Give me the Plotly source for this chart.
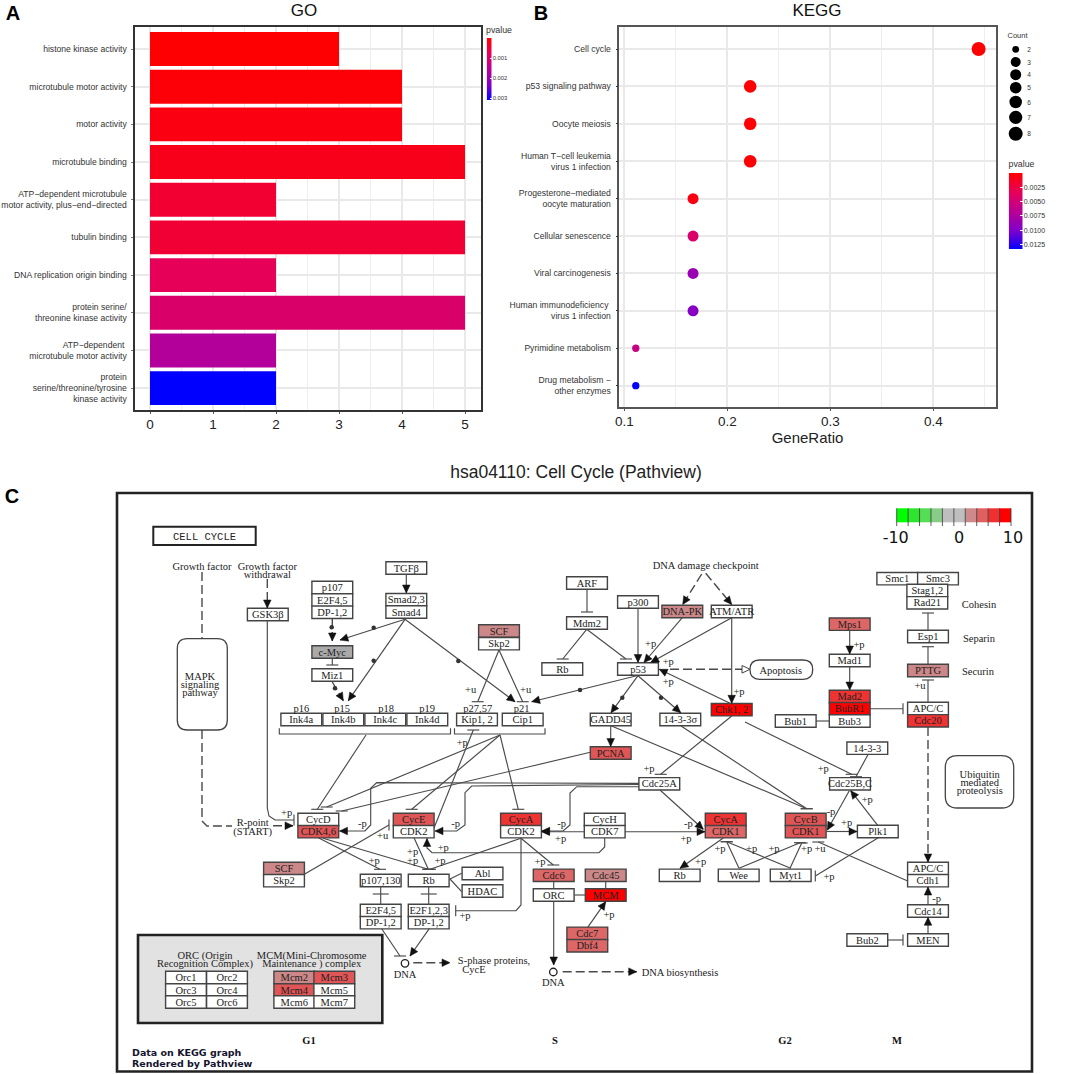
import plotly.graph_objects as go

W, H = 1072, 1074
SANS = "Liberation Sans"
SERIF = "Liberation Serif"

# ---------- Panel A data ----------
GO_TERMS = ["histone kinase activity", "microtubule motor activity", "motor activity",
            "microtubule binding", "ATP−dependent microtubule<br>motor activity, plus−end−directed",
            "tubulin binding", "DNA replication origin binding",
            "protein serine/<br>threonine kinase activity",
            "ATP−dependent <br>microtubule motor activity",
            "protein<br>serine/threonine/tyrosine<br>kinase activity"]
GO_COUNTS = [3, 4, 4, 5, 2, 5, 2, 5, 2, 2]
GO_PVALUES = [0.00002, 0.00006, 0.00015, 0.00022, 0.00042, 0.00045, 0.00075, 0.00098, 0.00165, 0.0031]
GO_CBAR_TICKS = [0.001, 0.002, 0.003]

# ---------- Panel B data ----------
KEGG_TERMS = ["Cell cycle", "p53 signaling pathway", "Oocyte meiosis",
              "Human T−cell leukemia<br>virus 1 infection",
              "Progesterone−mediated<br>oocyte maturation", "Cellular senescence",
              "Viral carcinogenesis", "Human immunodeficiency <br>virus 1 infection",
              "Pyrimidine metabolism", "Drug metabolism −<br>other enzymes"]
KEGG_RATIO = [0.444, 0.2222, 0.2222, 0.2222, 0.1667, 0.1667, 0.1667, 0.1667, 0.1111, 0.1111]
KEGG_COUNT = [8, 4, 4, 4, 3, 3, 3, 3, 2, 2]
KEGG_PVALUES = [0.00002, 0.00015, 0.00018, 0.0002, 0.0007, 0.0043, 0.0085, 0.0095, 0.0056, 0.0133]
KEGG_CBAR_TICKS = [0.0025, 0.005, 0.0075, 0.01, 0.0125]
COUNT_LEVELS = [2, 3, 4, 5, 6, 7, 8]

# style lookups
PLOT_DOT = {2: 7.3, 3: 11, 4: 12.6, 8: 14}
LEG_DOT = {2: 6.8, 3: 10, 4: 11, 5: 11.6, 6: 12.5, 7: 13.2, 8: 14}
LEG_Y = {2: 49.3, 3: 62, 4: 74.7, 5: 87.7, 6: 102, 7: 117.3, 8: 133.7}
RAMP = [[0, "#FF0000"], [0.25, "#E6005A"], [0.5, "#BA0094"], [0.75, "#8000CC"], [1, "#0000FF"]]
A_STOPS = [0, 0.0004, 0.0008, 0.0012, 0.0016, 0.002, 0.0024, 0.0028, 0.0031]
B_STOPS = [0, 0.002, 0.004, 0.006, 0.008, 0.01, 0.012, 0.0133]

# ---------- Panel C: KEGG diagram in its own page-sized coordinate system ----------
R1, R2, R3, R4, PK, GY, WT = "#ff0000", "#ee3333", "#e05555", "#dd6666", "#cc8888", "#aaaaaa", "#ffffff"
NODES = [
    ("GSK3β", 267.8, 614.5, WT), ("p107", 332.3, 587.5, WT), ("E2F4,5", 332.3, 600, WT), ("DP-1,2", 332.3, 612.3, WT),
    ("c-Myc", 332.3, 652, GY), ("Miz1", 332.3, 675, WT), ("TGFβ", 406.3, 568, WT), ("Smad2,3", 406.3, 599.7, WT),
    ("Smad4", 406.3, 612, WT), ("Ink4a", 301.3, 719.5, WT), ("Ink4b", 343.3, 719.5, WT), ("Ink4c", 385.3, 719.5, WT),
    ("Ink4d", 427.3, 719.5, WT), ("Kip1, 2", 477, 719.5, WT), ("Cip1", 522.7, 719.5, WT), ("SCF", 499, 631, PK),
    ("Skp2", 499, 643.7, WT), ("ARF", 587, 583, WT), ("Mdm2", 587, 623, WT), ("Rb", 562.3, 669, WT),
    ("p300", 638, 602, WT), ("p53", 638, 669, WT), ("DNA-PK", 682.3, 611.5, PK), ("ATM/ATR", 731.7, 611.5, WT),
    ("Chk1, 2", 731.7, 709.7, R1), ("GADD45", 610.7, 719.5, WT), ("14-3-3σ", 680.3, 719.5, WT), ("PCNA", 610.7, 753, R3),
    ("Smc1", 897.3, 578.7, WT), ("Smc3", 938, 578.7, WT), ("Stag1,2", 927.3, 590.5, WT), ("Rad21", 927.3, 602.8, WT),
    ("Esp1", 928, 636.5, WT), ("PTTG", 928, 670.5, PK), ("APC/C", 928, 708.4, WT), ("Cdc20", 928, 720.8, R2),
    ("Mps1", 849.7, 624.2, R4), ("Mad1", 849.7, 660.5, WT), ("Mad2", 849.7, 696.5, R2), ("BubR1", 849.7, 708.7, R1),
    ("Bub3", 849.7, 721, WT), ("Bub1", 795.7, 721, WT), ("14-3-3", 867.3, 748.2, WT), ("Cdc25B,C", 850, 783.8, WT),
    ("Cdc25A", 659.3, 783.8, WT), ("CycD", 318.3, 819.5, WT), ("CDK4,6", 318.3, 831.7, R3), ("CycE", 413.7, 819.5, R3),
    ("CDK2", 413.7, 831.7, WT), ("SCF", 284, 868.5, PK), ("Skp2", 284, 880.7, WT), ("p107,130", 380.7, 880.5, WT),
    ("Rb", 428.7, 880.5, WT), ("E2F4,5", 380.7, 910.5, WT), ("DP-1,2", 380.7, 922.7, WT), ("E2F1,2,3", 428.7, 910.5, WT),
    ("DP-1,2", 428.7, 922.7, WT), ("CycA", 521, 819.5, R2), ("CDK2", 521, 831.7, WT), ("CycH", 604.7, 819.5, WT),
    ("CDK7", 604.7, 831.7, WT), ("CycA", 725.7, 819.5, R2), ("CDK1", 725.7, 831.7, R4), ("CycB", 805.7, 819.5, R3),
    ("CDK1", 805.7, 831.7, R3), ("Plk1", 877.8, 831.5, WT), ("Cdc6", 553.7, 875.3, R4), ("ORC", 553.7, 895, WT),
    ("Cdc45", 605.7, 875.3, PK), ("MCM", 605.7, 895, R1), ("Abl", 482.5, 873.5, WT), ("HDAC", 482.5, 891, WT),
    ("Rb", 679.7, 875.3, WT), ("Wee", 738.7, 875.3, WT), ("Myt1", 790.7, 875.3, WT), ("Cdc7", 587.3, 933.3, R4),
    ("Dbf4", 587.3, 945.8, R4), ("APC/C", 928, 868.5, WT), ("Cdh1", 928, 880.7, WT), ("Cdc14", 928, 911, WT),
    ("MEN", 928, 940, WT), ("Bub2", 867.3, 940, WT),
    # complex tables inside the grey box
    ("Orc1", 186, 977.5, WT), ("Orc2", 227, 977.5, WT), ("Orc3", 186, 990, WT), ("Orc4", 227, 990, WT),
    ("Orc5", 186, 1002, WT), ("Orc6", 227, 1002, WT), ("Mcm2", 294.3, 977.5, PK), ("Mcm3", 334.3, 977.5, R3),
    ("Mcm4", 294.3, 990, R3), ("Mcm5", 334.3, 990, WT), ("Mcm6", 294.3, 1002, WT), ("Mcm7", 334.3, 1002, WT),
]
SOFT_LABELS = [
    ("Growth factor", 202, 566), ("Growth factor", 267.3, 566), ("withdrawal", 267.3, 574),
    ("MAPK", 200, 676), ("signaling", 200, 684), ("pathway", 200, 692),
    ("p16", 301.3, 708.7), ("p15", 342, 708.7), ("p18", 386, 708.7), ("p19", 427, 708.7),
    ("p27,57", 477.7, 708.7), ("p21", 521.7, 708.7), ("DNA damage checkpoint", 705.7, 565.7),
    ("Apoptosis", 780.7, 670), ("Ubiquitin", 979.7, 774.3), ("mediated", 979.7, 782.7), ("proteolysis", 979.7, 790.7),
    ("R-point", 252.7, 822.7), ("(START)", 252.7, 831), ("DNA", 405, 974), ("DNA", 553.3, 982.3),
    ("ORC (Origin", 205, 955.7), ("Recognition Complex)", 205, 963.3), ("MCM(Mini-Chromosome", 311.7, 955.7),
    ("Maintenance ) complex", 311.7, 963.3), ("Cohesin", 979, 604.3), ("Separin", 979, 638), ("Securin", 978, 671.7),
    ("S-phase proteins,", 494, 960.3), ("CycE", 474, 969.3), ("DNA biosynthesis", 680, 972.7),
]
MODS = [
    ("+p", 286.7, 812.7), ("-p", 362.3, 823.3), ("+u", 382.7, 835), ("+p", 443.3, 847.3), ("+p", 412.7, 851.7),
    ("+p", 412.7, 860.7), ("+p", 440, 860.7), ("+p", 374.3, 860.7), ("+p", 650.7, 643.3), ("+p", 668.3, 661),
    ("+p", 668.3, 681.7), ("+p", 739, 691), ("+p", 462.3, 742.3), ("+p", 649, 768.3), ("+p", 859, 644.3),
    ("+u", 920, 685.7), ("+p", 823.3, 768.3), ("-p", 455.7, 823.3), ("-p", 561.7, 823.3), ("+p", 560.7, 838.3),
    ("+p", 540, 861.7), ("+p", 465, 915), ("+p", 609, 914), ("-p", 688.3, 823.3), ("+p", 686, 838.3), ("+p", 720, 848.3),
    ("+p", 700.7, 861.7), ("+p", 751.7, 848.3), ("-p", 831, 811.7), ("+p", 846.7, 822.7), ("+p", 867.3, 799.3),
    ("+p", 774, 848.3), ("+p", 806.7, 848.3), ("+u", 820, 848.3), ("+p", 829, 876.7), ("-p", 936.7, 898.3),
    ("+u", 470.7, 689), ("+u", 525.7, 689),
]
# (points, end marker, dashed)
EDGES = [
    ([(202, 572), (202, 638.7)], "", True),
    ([(202, 730), (202, 821), (207, 826), (232, 826)], "", True),
    ([(273, 825.7), (293, 825.7)], "A", True),
    ([(267.3, 579), (267.3, 608)], "A", True),
    ([(267.3, 621), (267.3, 808), (269, 816), (275, 820), (294, 820)], "V", False),
    ([(332.3, 619), (332.3, 641)], "A", True),
    ([(405, 619.3), (340, 640)], "A", False),
    ([(332.3, 658), (332.3, 665)], "T", False),
    ([(332.3, 682), (343.3, 700.7)], "A", True),
    ([(405, 619.3), (348.3, 700.7)], "A", False),
    ([(405, 619.3), (515, 701.7)], "A", False),
    ([(499, 650), (477.7, 701.7)], "T", False),
    ([(499, 650), (522.7, 701.7)], "T", False),
    ([(406.3, 574.3), (406.3, 593)], "A", False),
    ([(587, 589.5), (587, 612)], "T", False),
    ([(586.7, 629.3), (562.7, 659)], "T", False),
    ([(586.7, 629.3), (626, 659)], "T", False),
    ([(638, 608.3), (638, 662.5)], "A", False),
    ([(682.3, 617.7), (644, 662.5)], "A", False),
    ([(731.7, 617.7), (650.7, 662.5)], "A", False),
    ([(731.7, 617.7), (731.7, 703.3)], "A", False),
    ([(701.7, 574), (682.7, 604.5)], "A", True),
    ([(705.7, 573.3), (731.7, 604.5)], "A", True),
    ([(730, 703.3), (659.3, 669.3)], "A", False),
    ([(636.7, 675.7), (531.7, 701.7)], "A", False),
    ([(638, 675.7), (611, 712.7)], "A", False),
    ([(638, 675.7), (680.7, 712.7)], "A", False),
    ([(610.7, 726), (610.7, 746.5)], "A", False),
    ([(611, 725.7), (806.7, 808.7)], "T", False),
    ([(680.7, 725.7), (806.7, 808.7)], "T", False),
    ([(731.7, 716), (660.7, 774.3)], "T", False),
    ([(745, 722), (851.7, 774.3)], "T", False),
    ([(868.3, 754), (856, 776.7)], "T", False),
    ([(849.7, 630.7), (849.7, 654)], "A", False),
    ([(849.7, 667), (849.7, 690)], "A", False),
    ([(870, 708.7), (903, 708.7)], "V", False),
    ([(816, 721), (829, 721)], "", False),
    ([(928, 630), (928, 613)], "T", False),
    ([(928, 664), (928, 646.7)], "T", False),
    ([(928, 702), (928, 680)], "T", False),
    ([(928, 727), (928, 862)], "A", True),
    ([(928, 904.7), (928, 887)], "A", False),
    ([(928, 933.7), (928, 917.3)], "A", False),
    ([(888, 940), (903, 940)], "V", False),
    ([(907.7, 881), (818.3, 842)], "T", False),
    ([(877.7, 825.3), (850.7, 790.7)], "A", False),
    ([(878.3, 837.7), (815.3, 876)], "V", False),
    ([(826.5, 831.5), (857, 831.5)], "A", False),
    ([(849.3, 790.7), (827.3, 830)], "A", False),
    ([(790, 868.3), (801.7, 843)], "T", False),
    ([(739, 868.3), (800, 842.7)], "T", False),
    ([(739, 868.3), (726.7, 841.7)], "T", False),
    ([(790.7, 868.3), (726.7, 841.7)], "T", False),
    ([(723.3, 838), (680, 868.3)], "A", False),
    ([(625, 831.7), (705, 831.7)], "A", False),
    ([(584, 831.7), (541.5, 831.7)], "A", False),
    ([(604.7, 838), (604.7, 847), (599, 852.7), (432, 852.7), (427, 848), (427, 838.5)], "A", False),
    ([(639, 786.7), (576.7, 786.7), (570, 793), (570, 825), (563, 831), (541.7, 831)], "A", False),
    ([(639, 784.5), (471.7, 786), (465, 792.7), (465, 825), (456.7, 831), (435, 831)], "A", False),
    ([(639, 783.3), (376.7, 782.7), (370.7, 788.3), (370.7, 825), (365, 831), (339.5, 831)], "A", False),
    ([(660, 790), (703.3, 829.3)], "A", False),
    ([(366, 735), (317.3, 809.3)], "T", False),
    ([(500, 735), (326.7, 807)], "T", False),
    ([(590.3, 752.3), (341.7, 811)], "T", False),
    ([(500, 735), (411.7, 809.3)], "T", False),
    ([(500, 735), (518.3, 809.3)], "T", False),
    ([(434, 828), (473.3, 730)], "T", False),
    ([(304.3, 874.3), (389, 825)], "V", False),
    ([(318.3, 837.7), (380, 869.3)], "T", False),
    ([(323, 838.3), (428.3, 869.3)], "T", False),
    ([(414, 837.7), (428.3, 869.3)], "T", False),
    ([(521, 838.3), (430, 869.3)], "T", False),
    ([(380.7, 887), (380.7, 904)], "", False),
    ([(428.7, 887), (428.7, 904)], "", False),
    ([(372.7, 894), (388.7, 894)], "", False),
    ([(420.7, 894), (436.7, 894)], "", False),
    ([(381.7, 928.7), (400, 956)], "T", False),
    ([(429.3, 928.7), (410, 956)], "A", False),
    ([(413.3, 962.7), (450, 962.7)], "A", True),
    ([(521, 838.3), (521, 905), (516, 910.7), (455.7, 910.7)], "V", False),
    ([(521, 838.3), (553.3, 865)], "T", False),
    ([(553.7, 881.7), (553.7, 888.7)], "", False),
    ([(553.7, 901.5), (553.7, 965)], "A", False),
    ([(605.7, 881.7), (605.7, 888.7)], "", False),
    ([(574.3, 895), (585, 895)], "", False),
    ([(587.7, 927.3), (605.7, 901.7)], "A", False),
    ([(450, 879), (461.7, 873.3)], "", False),
    ([(450, 879), (461.7, 891.7)], "", False),
    ([(562.7, 971.7), (636.7, 971.7)], "A", True),
    ([(670, 669.3), (742, 669.3)], "O", True),
]
BRACKETS = [
    [(279.3, 728.3), (279.3, 734), (450.5, 734), (450.5, 728.3)],
    [(454.5, 728.3), (454.5, 734), (545, 734), (545, 728.3)],
]
REG_DOTS = [(331.7, 627.3), (373.7, 627.7), (335, 688.3), (373.7, 660.7), (458.3, 661), (580, 690), (622.3, 697.7), (661, 697.7)]
KEY_COLORS = ["#00ff00", "#2ee52e", "#55dd55", "#88cc88", "#bebebe", "#bebebe", "#ce8a8a", "#e06060", "#ef3030", "#ff0000"]
KEY_LABELS = [("-10", 895.7), ("0", 959), ("10", 1013)]
PHASES = [("G1", 309), ("S", 555), ("G2", 785), ("M", 897)]

TEXT_DY = 1.0


def dom_x(a, b):
    return [a / W, b / W]


def dom_y(top, bottom):
    return [1 - bottom / H, 1 - top / H]


# ---------- build diagram geometry ----------
sx, sy, dx, dy, hx, hy, ox, oy = [], [], [], [], [], [], [], []


def head(p0, p1, xs, ys):
    vx, vy = p1[0] - p0[0], p1[1] - p0[1]
    n = (vx * vx + vy * vy) ** 0.5
    ux, uy = vx / n, vy / n
    bx, by = p1[0] - ux * 8, p1[1] - uy * 8
    xs += [p1[0], bx - uy * 3.8, bx + uy * 3.8, p1[0], None]
    ys += [p1[1], by + ux * 3.8, by - ux * 3.8, p1[1], None]


for pts, end, dashed in EDGES:
    xs, ys = (dx, dy) if dashed else (sx, sy)
    xs += [p[0] for p in pts] + [None]
    ys += [p[1] for p in pts] + [None]
    x_, y_ = pts[-1]
    if end == "A":
        head(pts[-2], pts[-1], hx, hy)
    elif end == "O":
        head(pts[-2], (x_ + 8, y_), ox, oy)
    elif end == "T":
        sx += [x_ - 6, x_ + 6, None]
        sy += [y_, y_, None]
    elif end == "V":
        sx += [x_, x_, None]
        sy += [y_ - 5.5, y_ + 5.5, None]
for b in BRACKETS:
    sx += [p[0] for p in b] + [None]
    sy += [p[1] for p in b] + [None]

shapes = []


def rect(x0, y0, x1, y1, fill="rgba(0,0,0,0)", lw=1.4, col="#444444"):
    shapes.append(dict(type="rect", xref="x3", yref="y3", x0=x0, y0=y0, x1=x1, y1=y1,
                       fillcolor=fill, line=dict(color=col, width=lw), layer="below"))


def rounded(x0, y0, x1, y1, r):
    p = (f"M{x0+r},{y0} L{x1-r},{y0} Q{x1},{y0} {x1},{y0+r} L{x1},{y1-r} Q{x1},{y1} {x1-r},{y1} "
         f"L{x0+r},{y1} Q{x0},{y1} {x0},{y1-r} L{x0},{y0+r} Q{x0},{y0} {x0+r},{y0} Z")
    shapes.append(dict(type="path", path=p, xref="x3", yref="y3", fillcolor="white",
                       line=dict(color="#444444", width=1.3), layer="below"))


rect(117, 493, 1032, 1071.5, "white", 2.6, "#222222")
rect(153.3, 526.7, 255.7, 545, "white", 2, "#222222")
rect(138, 935, 382.3, 1023, "#e2e2e2", 2.6, "#222222")
rounded(177.3, 638.7, 227.3, 730, 10)
rounded(750, 660, 812.7, 679.3, 9.5)
rounded(945.3, 755.7, 1013.7, 808, 12)
for name, cx, cy, fill in NODES:
    rect(cx - 20.4, cy - 6.2, cx + 20.4, cy + 6.2, fill)
for i, c in enumerate(KEY_COLORS):
    x0 = 896.7 + i * 11.43
    shapes.append(dict(type="rect", xref="x3", yref="y3", x0=x0, x1=x0 + 11.43, y0=508.3, y1=522.3,
                       fillcolor=c, line=dict(width=0), layer="below"))
    shapes.append(dict(type="line", xref="x3", yref="y3", x0=x0, x1=x0, y0=508.3, y1=526,
                       line=dict(color="#333333", width=0.8), layer="below"))
shapes.append(dict(type="line", xref="x3", yref="y3", x0=1011, x1=1011, y0=508.3, y1=526,
                   line=dict(color="#333333", width=0.8), layer="below"))

fig = go.Figure()

# ---------- Panel A ----------
fig.add_trace(go.Bar(x=GO_COUNTS, y=GO_TERMS, orientation="h", width=0.9, xaxis="x", yaxis="y",
                     marker=dict(color=GO_PVALUES, colorscale=RAMP, cmin=0, cmax=0.0031, line=dict(width=0)),
                     showlegend=False))
# ---------- Panel B ----------
fig.add_trace(go.Scatter(x=KEGG_RATIO, y=KEGG_TERMS, mode="markers", xaxis="x2", yaxis="y2", showlegend=False,
                         marker=dict(size=[PLOT_DOT[c] for c in KEGG_COUNT], color=KEGG_PVALUES, colorscale=RAMP,
                                     cmin=0, cmax=0.0133, line=dict(width=0), opacity=1)))
# colour keys as small reversed heatmaps
fig.add_trace(go.Heatmap(z=[[s, s] for s in A_STOPS], x=[0, 1], y=A_STOPS, colorscale=RAMP, zmin=0, zmax=0.0031,
                         zsmooth="best", showscale=False, xaxis="x4", yaxis="y4"))
fig.add_trace(go.Heatmap(z=[[s, s] for s in B_STOPS], x=[0, 1], y=B_STOPS, colorscale=RAMP, zmin=0, zmax=0.0133,
                         zsmooth="best", showscale=False, xaxis="x5", yaxis="y5"))


def page_trace(**kw):
    fig.add_trace(go.Scatter(xaxis="x3", yaxis="y3", showlegend=False, hoverinfo="skip", cliponaxis=False, **kw))


def page_text(items, size, family=SERIF, color="#222222", pos="middle center", weight="normal"):
    page_trace(x=[i[1] for i in items], y=[i[2] + TEXT_DY for i in items], text=[i[0] for i in items], mode="text",
               textposition=pos, textfont=dict(family=family, size=size, color=color, weight=weight))


page_trace(x=sx, y=sy, mode="lines", line=dict(color="#4a4a4a", width=1.15))
page_trace(x=dx, y=dy, mode="lines", line=dict(color="#4a4a4a", width=1.4, dash="9px,4px"))
page_trace(x=hx, y=hy, mode="lines", fill="toself", fillcolor="#111111", line=dict(color="#111111", width=0.5))
page_trace(x=ox, y=oy, mode="lines", fill="toself", fillcolor="white", line=dict(color="#444444", width=1))
page_trace(x=[p[0] for p in REG_DOTS], y=[p[1] for p in REG_DOTS], mode="markers",
           marker=dict(size=4.5, color="#333333"))
page_trace(x=[405, 553.3], y=[963.3, 972], mode="markers",
           marker=dict(size=7.5, color="white", line=dict(color="#222222", width=1.3)))

page_text([(n[0], n[1], n[2]) for n in NODES], 10.5)
page_text(SOFT_LABELS, 10.5)
page_text(MODS, 10.5, color="#222222")
page_text([("CELL CYCLE", 204.5, 536)], 10.5, "Liberation Mono")
page_text([(t, x, 1040) for t, x in PHASES], 10.5, SERIF, "#111111", weight="bold")
page_text([("Data on KEGG graph", 132, 1052.7), ("Rendered by Pathview", 132, 1063.3)], 9.5,
          "DejaVu Sans", "#14142e", "middle right", weight="bold")
page_text([(t, x, 538) for t, x in KEY_LABELS], 16, "DejaVu Sans", "#111111")
page_text([("hsa04110: Cell Cycle (Pathview)", 576, 473)], 17.5, SANS, "#222222")
page_text([("GO", 304, 10.5), ("KEGG", 817, 10.5)], 17, SANS, "#111111")
page_text([("A", 13, 14), ("B", 541, 14), ("C", 12, 497)], 20, SANS, "#000000", weight="bold")
page_text([("pvalue", 486, 30), ("pvalue", 1008.5, 164)], 8.8, SANS, "#333333", "middle right")
page_text([("Count", 1007.5, 35)], 7.5, SANS, "#333333", "middle right")
page_trace(x=[1015.7] * len(COUNT_LEVELS), y=[LEG_Y[c] for c in COUNT_LEVELS], mode="markers",
           marker=dict(size=[LEG_DOT[c] for c in COUNT_LEVELS], color="black", opacity=1, line=dict(width=0)))
page_text([(str(c), 1029, LEG_Y[c]) for c in COUNT_LEVELS], 6.5, SANS, "#333333")

grid = "#e9e9e9"
tickf = dict(family=SANS, size=8.6, color="#333333")
numf = dict(family=SANS, size=13.5, color="#222222")
fig.update_layout(
    width=W, height=H, margin=dict(l=0, r=0, t=0, b=0, autoexpand=False), paper_bgcolor="white",
    plot_bgcolor="rgba(0,0,0,0)", showlegend=False, hovermode=False, shapes=shapes,
    xaxis=dict(domain=dom_x(134.5, 480.5), anchor="y", range=[-0.246, 5.246], tickvals=[0, 1, 2, 3, 4, 5],
               showgrid=True, gridcolor=grid, gridwidth=1.8, zeroline=False, tickfont=numf,
               minor=dict(dtick=0.5, showgrid=True, gridcolor="#eeeeee", gridwidth=1.2),
               showline=True, mirror=True, linecolor="#333333", linewidth=2, ticks="outside", ticklen=2,
               tickcolor="#555555", ticklabelstandoff=-1),
    yaxis=dict(domain=dom_y(27, 410), anchor="x", type="category", categoryorder="array", categoryarray=GO_TERMS,
               range=[9.58, -0.584], showgrid=True, gridcolor=grid, gridwidth=1.8, tickfont=tickf,
               showline=True, mirror=True, linecolor="#333333", linewidth=2, ticks="outside", ticklen=2,
               tickcolor="#777777", ticklabelstandoff=2),
    xaxis2=dict(domain=dom_x(619.3, 995.7), anchor="y2", range=[0.0951, 0.4606], tickvals=[0.1, 0.2, 0.3, 0.4],
                showgrid=True, gridcolor=grid, gridwidth=1.8, zeroline=False, tickfont=numf,
                minor=dict(dtick=0.05, showgrid=True, gridcolor="#eeeeee", gridwidth=1.2),
                title=dict(text="GeneRatio", font=dict(family=SANS, size=15, color="#222222"), standoff=0),
                showline=True, mirror=True, linecolor="#555555", linewidth=1.5, ticks="outside", ticklen=2,
                tickcolor="#555555", ticklabelstandoff=-1),
    yaxis2=dict(domain=dom_y(27, 407), anchor="x2", type="category", categoryorder="array", categoryarray=KEGG_TERMS,
                range=[9.57, -0.588], showgrid=True, gridcolor=grid, gridwidth=1.8, tickfont=tickf,
                showline=True, mirror=True, linecolor="#555555", linewidth=1.5, ticks="outside", ticklen=2,
                tickcolor="#333333", ticklabelstandoff=3),
    xaxis3=dict(domain=[0, 1], anchor="y3", range=[0, W], visible=False),
    yaxis3=dict(domain=[0, 1], anchor="x3", range=[H, 0], visible=False),
    xaxis4=dict(domain=dom_x(486.7, 491.7), anchor="y4", range=[0, 1], visible=False),
    yaxis4=dict(domain=dom_y(38, 100), anchor="x4", side="right", range=[0.0031, 0], tickvals=GO_CBAR_TICKS,
                tickformat=".3f", tickfont=dict(family=SANS, size=5.8, color="#333333"), showgrid=False,
                zeroline=False, ticks="inside", ticklen=2, tickcolor="white", showline=False),
    xaxis5=dict(domain=dom_x(1008.7, 1022.7), anchor="y5", range=[0, 1], visible=False),
    yaxis5=dict(domain=dom_y(173, 249), anchor="x5", side="right", range=[0.0133, 0], tickvals=KEGG_CBAR_TICKS,
                tickformat=".4f", tickfont=dict(family=SANS, size=7, color="#333333"), showgrid=False,
                zeroline=False, ticks="inside", ticklen=3, tickcolor="white", showline=False),
)

fig.write_html("out.html", config=dict(displayModeBar=False),
               post_script="document.body.style.margin='0';document.body.style.overflow='hidden';")
